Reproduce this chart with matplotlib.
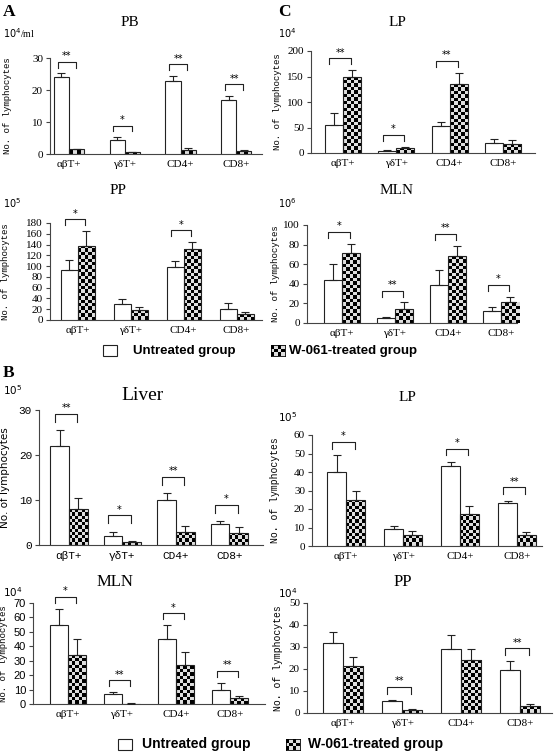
import matplotlib
matplotlib.use("Agg")
import matplotlib.pyplot as plt
from matplotlib.patches import Rectangle
import numpy as np

categories = ["αβT+", "γδT+", "CD4+", "CD8+"]

# A - PB
pb_untreated = [24.0, 4.5, 22.8, 17.0]
pb_untreated_err = [1.2, 0.8, 1.7, 1.2]
pb_treated = [1.5, 0.6, 1.2, 1.0]
pb_treated_err = [0.2, 0.1, 0.7, 0.2]
pb_sig = ["**", "*", "**", "**"]

# A - PP
app_untreated = [93, 29, 98, 21]
app_untreated_err = [18, 10, 12, 11]
app_treated = [138, 19, 131, 12]
app_treated_err = [27, 6, 14, 3]
app_sig = ["*", "", "*", ""]

# C - LP
clp_untreated = [55, 4, 52, 20]
clp_untreated_err = [24, 1, 8, 8]
clp_treated = [150, 10, 135, 17]
clp_treated_err = [12, 2, 22, 9]
clp_sig = ["**", "*", "**", ""]

# C - MLN
cmln_untreated = [44, 5, 39, 12]
cmln_untreated_err = [16, 1, 15, 4]
cmln_treated = [71, 14, 68, 21]
cmln_treated_err = [10, 7, 11, 6]
cmln_sig = ["*", "**", "**", "*"]

# B - Liver
liver_untreated = [22, 2, 10, 4.6]
liver_untreated_err = [3.6, 1.0, 1.6, 0.8]
liver_treated = [8, 0.7, 3, 2.7]
liver_treated_err = [2.5, 0.3, 1.2, 1.2]
liver_sig = ["**", "*", "**", "*"]

# B - LP
blp_untreated = [40, 9, 43.5, 23]
blp_untreated_err = [9, 2, 2, 1.5]
blp_treated = [25, 6, 17.5, 6]
blp_treated_err = [5, 2, 4, 1.5]
blp_sig = ["*", "", "*", "**"]

# B - MLN
bmln_untreated = [55, 7, 45, 10]
bmln_untreated_err = [11, 1.2, 9.5, 4.5]
bmln_treated = [34, 0.3, 27, 4]
bmln_treated_err = [11, 0.1, 9, 1.5]
bmln_sig = ["*", "**", "*", "**"]

# B - PP
bpp_untreated = [32, 5.3, 29, 19.5]
bpp_untreated_err = [5, 0.5, 6.5, 4]
bpp_treated = [21.5, 1.5, 24, 3.2]
bpp_treated_err = [4, 0.2, 5, 1]
bpp_sig = ["", "**", "", "**"]

W, H = 555, 752
fig = plt.figure(figsize=(W / 100, H / 100), dpi=100)
CELL = 3.4  # checkerboard cell size in px


def checker(ny, nx):
    return np.indices((ny, nx)).sum(axis=0) % 2


def checker_fill(ax, rect):
    x, y = rect.get_x(), rect.get_y()
    w, h = rect.get_width(), rect.get_height()
    p0 = ax.transData.transform((x, y))
    p1 = ax.transData.transform((x + w, y + h))
    nx = max(1, int(round((p1[0] - p0[0]) / CELL)))
    ny = max(1, int(round((p1[1] - p0[1]) / CELL)))
    im = ax.imshow(checker(ny, nx), cmap='gray', vmin=0, vmax=1.15, origin='lower',
                   extent=(x, x + w, y, y + h), aspect='auto', interpolation='nearest', zorder=2)
    im.set_clip_path(rect)


def px_axes(x0, xr, ytop, y0):
    # axes placed by pixel box of the original figure
    ax = fig.add_axes([x0 / W, 1 - y0 / H, (xr - x0) / W, (y0 - ytop) / H])
    ax.px = (x0, xr)
    return ax


def panel(ax, unt, unt_err, trt, trt_err, sig, ymax, step, xlim, w,
          tickfont, labfont, labsize, ylab_px, ylab_font, ylab_size):
    x = np.arange(len(categories))
    unt = np.array(unt, float)
    trt = np.array(trt, float)
    ax.set_xlim(*xlim)
    ax.set_ylim(0, ymax)
    ax.bar(x - w / 2, unt, w, color='white', edgecolor='#222222', linewidth=0.8, zorder=3)
    hb = ax.bar(x + w / 2, trt, w, facecolor='none', edgecolor='#222222', linewidth=0.8, zorder=3)
    for r in hb:
        checker_fill(ax, r)
    ax.errorbar(x - w / 2, unt, yerr=[np.zeros(4), unt_err], fmt='none', ecolor='#222222',
                elinewidth=0.8, capsize=3, capthick=0.8, zorder=4)
    ax.errorbar(x + w / 2, trt, yerr=[np.zeros(4), trt_err], fmt='none', ecolor='#222222',
                elinewidth=0.8, capsize=3, capthick=0.8, zorder=4)
    # significance brackets
    for i, s in enumerate(sig):
        if not s:
            continue
        top = max(unt[i] + unt_err[i], trt[i] + trt_err[i]) + 0.12 * ymax
        leg = 0.06 * ymax
        xl, xr = x[i] - 0.75 * w, x[i] + 0.45 * w
        ax.plot([xl, xl, xr, xr], [top - leg, top, top, top - leg], color='#222222', lw=0.8,
                clip_on=False)
        ax.text((xl + xr) / 2, top + 0.005 * ymax, s, ha='center', va='bottom', fontsize=7,
                family='DejaVu Sans', clip_on=False)
    ax.set_xlim(*xlim)
    ax.set_ylim(0, ymax)
    ax.set_yticks(np.arange(0, ymax + step / 2, step))
    ax.set_xticks(x)
    ax.set_xticklabels(categories, family=labfont, fontsize=labsize)
    for t in ax.get_yticklabels():
        t.set_family(tickfont)
        t.set_fontsize(labsize)
    ax.tick_params(axis='x', length=0, pad=4)
    ax.tick_params(axis='y', length=3, width=0.8, pad=2, color='#444444')
    ax.spines['top'].set_visible(False)
    ax.spines['right'].set_visible(False)
    ax.spines['left'].set_color('#444444')
    ax.spines['bottom'].set_color('#444444')
    ax.patch.set_alpha(0)
    ax.set_ylabel("No. of lymphocytes", family=ylab_font, fontsize=ylab_size)
    x0, x1 = ax.px
    ax.yaxis.set_label_coords((ylab_px - x0) / (x1 - x0), 0.5)


def fig_text(xp, yp, s, **kw):
    fig.text(xp / W, 1 - yp / H, s, **kw)


serif = 'Liberation Serif'

# A PB
ax = px_axes(50, 262, 58, 154)
panel(ax, pb_untreated, pb_untreated_err, pb_treated, pb_treated_err, pb_sig, 30, 10,
      (-0.34, 3.46), 0.27, serif, serif, 8, 12, 'Liberation Mono', 6.5)
fig_text(130, 22, "PB", ha='center', va='center', family=serif, fontsize=11)
fig_text(3, 33, r"$10^4$/ml", ha='left', va='center', family=serif, fontsize=7)

# A PP
ax = px_axes(50, 262, 223, 320)
panel(ax, app_untreated, app_untreated_err, app_treated, app_treated_err, app_sig, 180, 20,
      (-0.52, 3.48), 0.32, serif, serif, 8, 10, 'Liberation Mono', 6.5)
fig_text(118, 191, "PP", ha='center', va='center', family=serif, fontsize=11)
fig_text(3, 203, r"$10^5$", ha='left', va='center', family=serif, fontsize=7)

# C LP
ax = px_axes(311, 535, 51, 153)
panel(ax, clp_untreated, clp_untreated_err, clp_treated, clp_treated_err, clp_sig, 200, 50,
      (-0.6, 3.6), 0.34, serif, serif, 8, 282, 'Liberation Mono', 6.5)
fig_text(397, 23, "LP", ha='center', va='center', family=serif, fontsize=11)
fig_text(278, 33, r"$10^4$", ha='left', va='center', family=serif, fontsize=7)

# C MLN
ax = px_axes(307, 517, 225, 323)
panel(ax, cmln_untreated, cmln_untreated_err, cmln_treated, cmln_treated_err, cmln_sig, 100, 20,
      (-0.66, 3.3), 0.34, serif, serif, 8, 280, 'Liberation Mono', 6.5)
fig_text(397, 191, "MLN", ha='center', va='center', family=serif, fontsize=11)
fig_text(278, 203, r"$10^6$", ha='left', va='center', family=serif, fontsize=7)

# B Liver
ax = px_axes(39, 263, 410, 545)
panel(ax, liver_untreated, liver_untreated_err, liver_treated, liver_treated_err, liver_sig, 30, 10,
      (-0.56, 3.63), 0.35, 'Liberation Mono', 'Liberation Mono', 8, 10, 'DejaVu Sans', 7.5)
fig_text(143, 396, "Liver", ha='center', va='center', family=serif, fontsize=14)
fig_text(3, 390, r"$10^5$", ha='left', va='center', family=serif, fontsize=7.5)

# B LP
ax = px_axes(312, 542, 435, 546)
panel(ax, blp_untreated, blp_untreated_err, blp_treated, blp_treated_err, blp_sig, 60, 10,
      (-0.6, 3.44), 0.33, serif, serif, 8, 280, 'Liberation Mono', 7)
fig_text(407, 397, "LP", ha='center', va='center', family=serif, fontsize=11)
fig_text(278, 417, r"$10^5$", ha='left', va='center', family=serif, fontsize=7.5)

# B MLN
ax = px_axes(33, 265, 603, 704)
panel(ax, bmln_untreated, bmln_untreated_err, bmln_treated, bmln_treated_err, bmln_sig, 70, 10,
      (-0.65, 3.65), 0.33, 'Liberation Sans', serif, 8, 8, 'Liberation Mono', 6.5)
fig_text(115, 582, "MLN", ha='center', va='center', family=serif, fontsize=12)
fig_text(3, 592, r"$10^4$", ha='left', va='center', family=serif, fontsize=7.5)

# B PP
ax = px_axes(307, 552, 603, 713)
panel(ax, bpp_untreated, bpp_untreated_err, bpp_treated, bpp_treated_err, bpp_sig, 50, 10,
      (-0.61, 3.54), 0.34, serif, serif, 8, 283, 'Liberation Mono', 7)
fig_text(403, 582, "PP", ha='center', va='center', family=serif, fontsize=12)
fig_text(278, 593, r"$10^4$", ha='left', va='center', family=serif, fontsize=7.5)

# panel letters
for xp, yp, s in [(3, 12, "A"), (278, 12, "C"), (3, 373, "B")]:
    fig_text(xp, yp, s, ha='left', va='center', family=serif, fontsize=12.5, weight='bold')


# legends drawn by hand: swatch boxes + bold labels
def legend_row(yc, wx, tx, hx, hx_text, size):
    sw, sh = 14, 11
    fig.add_artist(Rectangle((wx / W, 1 - (yc + sh / 2) / H), sw / W, sh / H,
                             transform=fig.transFigure, facecolor='white',
                             edgecolor='#222222', linewidth=0.8))
    fig_text(tx, yc, "Untreated group", ha='left', va='center', family='Liberation Sans',
             weight='bold', fontsize=size)
    sax = fig.add_axes([hx / W, 1 - (yc + sh / 2) / H, sw / W, sh / H])
    sax.imshow(checker(3, 4), cmap='gray', vmin=0, vmax=1.15, aspect='auto',
               interpolation='nearest')
    sax.set_xticks([])
    sax.set_yticks([])
    for sp in sax.spines.values():
        sp.set_linewidth(0.6)
    fig_text(hx_text, yc, "W-061-treated group", ha='left', va='center', family='Liberation Sans',
             weight='bold', fontsize=size)


legend_row(351, 103, 133, 271, 289, 9.5)
legend_row(744, 118, 142, 286, 308, 10)

fig.savefig("out.png", dpi=100)
